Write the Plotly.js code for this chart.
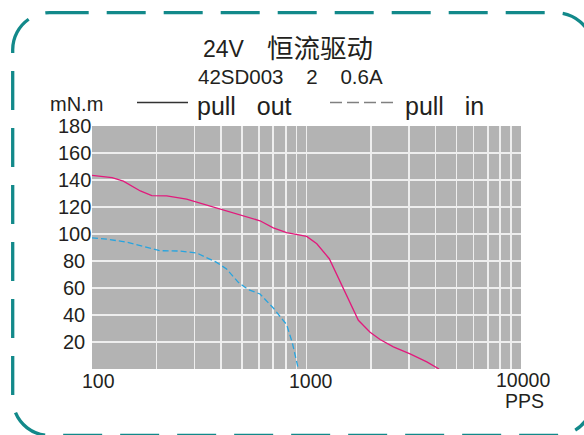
<!DOCTYPE html>
<html>
<head>
<meta charset="utf-8">
<script src="https://cdn.plot.ly/plotly-3.0.1.min.js"></script>
<style>html,body{margin:0;padding:0;background:#fff;}#chart{width:584px;height:435px;}</style>
</head>
<body>
<div id="chart"></div>
<script>
// ---- data ----
const pullOutX = [100,124,140,168,190,223,276,319,381,440,507,607,700,808,1002,1117,1277,1485,1745,1979,2203,2541,3040,3637,4150];
const pullOutY = [143.5,141.8,139.1,131.9,128.5,128.2,125.8,122.8,118.9,115.9,113.4,109.8,104.6,101.1,98.2,92.8,81.7,60,36.1,27.2,21.8,16.4,11.2,5.3,0];
const pullInX = [100,117,145,180,208,257,308,381,424,481,535,607,700,808,859,916];
const pullInY = [97.2,96.2,94,90,87.6,87.4,85.9,79,74.1,64.2,58.8,55.6,45.2,32.9,19.4,0];
const xTickLabels = ["100","1000","10000"];
const xTickValues = [100,1000,10000];
const yTickValues = [20,40,60,80,100,120,140,160,180];
const xGrid = [200,300,400,500,600,700,800,900,1000,2000,3000,4000,5000,6000,7000,8000,9000];
const titleLatin = "24V";
const titleCJK = "恒流驱动";
const subTitle = "42SD003\u00A0\u00A0\u00A0\u00A02\u00A0\u00A0\u00A0\u00A00.6A";
const yUnit = "mN.m";
const xUnit = "PPS";
const legendOut = "pull\u00A0\u00A0\u00A0out";
const legendIn = "pull\u00A0\u00A0\u00A0in";

// ---- layout helpers ----
const W = 584, H = 435, L = 92, R = 521, T = 126, B = 369;
const px = x => (x - L) / (R - L);
const py = y => (B - y) / (B - T);
const TXT = '#231f20';
const FONT = 'Liberation Sans, Arial, Noto Sans CJK SC, sans-serif';

function ann(text, x, y, size, xanchor, extra) {
  return Object.assign({text: text, xref: 'paper', yref: 'paper', x: px(x), y: py(y),
    xanchor: xanchor || 'center', yanchor: 'middle', showarrow: false,
    font: {family: FONT, size: size, color: TXT}}, extra || {});
}

// rounded dashed border
const bx0 = 12.7, by0 = 12.7, bx1 = 593, by1 = 435.5, br = 37, k = br * 0.5523;
function P(x, y) { return px(x).toFixed(5) + ',' + py(y).toFixed(5); }
const borderPath = 'M' + P(bx0 + br, by0) + ' L' + P(bx1 - br, by0) +
  ' C' + P(bx1 - br + k, by0) + ' ' + P(bx1, by0 + br - k) + ' ' + P(bx1, by0 + br) +
  ' L' + P(bx1, by1 - br) +
  ' C' + P(bx1, by1 - br + k) + ' ' + P(bx1 - br + k, by1) + ' ' + P(bx1 - br, by1) +
  ' L' + P(bx0 + br, by1) +
  ' C' + P(bx0 + br - k, by1) + ' ' + P(bx0, by1 - br + k) + ' ' + P(bx0, by1 - br) +
  ' L' + P(bx0, by0 + br) +
  ' C' + P(bx0, by0 + br - k) + ' ' + P(bx0 + br - k, by0) + ' ' + P(bx0 + br, by0) + ' Z';

const annotations = [
  ann(titleLatin, 201, 49, 23, 'left'),
  ann(titleCJK, 265, 49, 26.5, 'left'),
  ann(subTitle, 196, 76.5, 20.5, 'left'),
  ann(yUnit, 48, 104, 20, 'left'),
  ann(legendOut, 195, 106, 25, 'left'),
  ann(legendIn, 403, 106, 25, 'left'),
  ann(xUnit, 524, 401, 19.5, 'center')
];
yTickValues.forEach(v => {
  annotations.push({text: String(v), xref: 'paper', yref: 'y', x: px(74), y: v,
    xanchor: 'center', yanchor: 'middle', showarrow: false,
    font: {family: FONT, size: 20, color: TXT}});
});
const xShift = [6, 4, 2];
const xLabelY = [381, 381, 379.5];
xTickValues.forEach((v, i) => {
  annotations.push({text: xTickLabels[i], xref: 'x', yref: 'paper', x: Math.log10(v), y: py(xLabelY[i]),
    xanchor: 'center', yanchor: 'middle', xshift: xShift[i], showarrow: false,
    font: {family: FONT, size: 19.5, color: TXT}});
});

const shapes = [
  {type: 'path', xref: 'paper', yref: 'paper', path: borderPath,
   line: {color: '#12898a', width: 3.3, dash: '39px,18px'}},
  {type: 'line', xref: 'paper', yref: 'paper', x0: px(137), x1: px(188), y0: py(102.5), y1: py(102.5),
   line: {color: '#333333', width: 1.3}},
  {type: 'line', xref: 'paper', yref: 'paper', x0: px(330), x1: px(393), y0: py(102.5), y1: py(102.5),
   line: {color: '#808080', width: 1.3, dash: '12px,5px'}}
];

const traces = [
  {x: pullOutX, y: pullOutY, type: 'scatter', mode: 'lines', name: 'pull out',
   line: {color: '#e2197c', width: 1.3}},
  {x: pullInX, y: pullInY, type: 'scatter', mode: 'lines', name: 'pull in',
   line: {color: '#27a4df', width: 1.3, dash: '6px,3px'}}
];

const layout = {
  width: W, height: H,
  margin: {l: L, r: W - R, t: T, b: H - B, pad: 0},
  paper_bgcolor: '#ffffff', plot_bgcolor: '#b3b3b3',
  showlegend: false,
  font: {family: FONT, color: TXT},
  xaxis: {type: 'log', range: [2, 4], tickmode: 'array', tickvals: xGrid, showticklabels: false,
    ticks: '', showgrid: true, gridcolor: '#eeeeee', gridwidth: 1.6, zeroline: false, showline: false, fixedrange: true},
  yaxis: {range: [0, 180], tickmode: 'array', tickvals: yTickValues, showticklabels: false,
    ticks: '', showgrid: true, gridcolor: '#eeeeee', gridwidth: 1.6, zeroline: false, showline: false, fixedrange: true},
  annotations: annotations,
  shapes: shapes
};

Plotly.newPlot('chart', traces, layout, {displayModeBar: false, staticPlot: true});
</script>
</body>
</html>
